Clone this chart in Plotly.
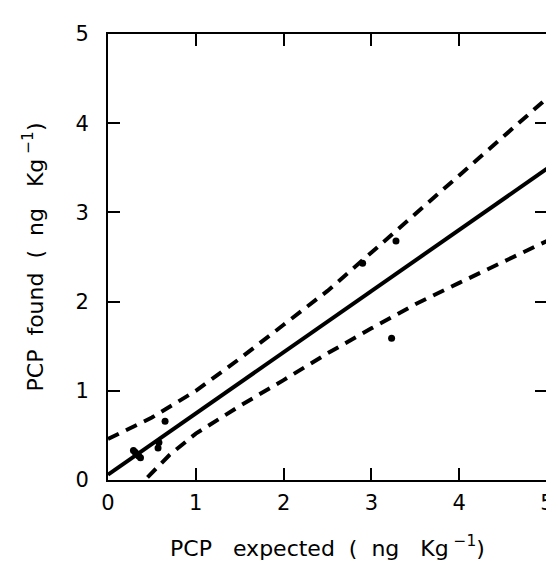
import plotly.graph_objects as go

# Observed data points (PCP expected, PCP found)
pts_x = [0.29, 0.33, 0.35, 0.37, 0.31, 0.57, 0.58, 0.65, 2.90, 3.23, 3.28]
pts_y = [0.33, 0.29, 0.27, 0.25, 0.31, 0.36, 0.42, 0.66, 2.43, 1.59, 2.68]

# Regression line (read endpoints)
fit_x = [0.0, 5.0]
fit_y = [0.06, 3.49]

# Upper confidence band
up_x = [0.0, 0.5, 1.0, 1.5, 2.0, 2.5, 3.0, 3.5, 4.0, 4.5, 5.0]
up_y = [0.46, 0.70, 1.00, 1.36, 1.74, 2.12, 2.55, 2.98, 3.42, 3.85, 4.28]

# Lower confidence band
lo_x = [0.45, 0.7, 1.0, 1.5, 2.0, 2.5, 3.0, 3.5, 4.0, 4.5, 5.0]
lo_y = [0.03, 0.28, 0.52, 0.83, 1.12, 1.42, 1.70, 1.97, 2.21, 2.45, 2.68]

ticks = [0, 1, 2, 3, 4, 5]
tick_text = ["0", "1", "2", "3", "4", "5"]

x_title = "PCP\u00a0\u00a0 expected \u00a0(\u00a0\u00a0ng\u00a0\u00a0 Kg<sup>\u00a0−1</sup>)"
y_title = "PCP\u00a0 found \u00a0(\u00a0\u00a0ng\u00a0\u00a0 Kg<sup>\u00a0−1</sup>)"

fig = go.Figure()
fig.add_trace(go.Scatter(x=up_x, y=up_y, mode="lines",
                         line=dict(color="black", width=4, dash="12px,8px"),
                         showlegend=False, hoverinfo="skip"))
fig.add_trace(go.Scatter(x=lo_x, y=lo_y, mode="lines",
                         line=dict(color="black", width=4, dash="12px,8px"),
                         showlegend=False, hoverinfo="skip"))
fig.add_trace(go.Scatter(x=fit_x, y=fit_y, mode="lines",
                         line=dict(color="black", width=4),
                         showlegend=False))
fig.add_trace(go.Scatter(x=pts_x, y=pts_y, mode="markers",
                         marker=dict(color="black", size=7),
                         showlegend=False))

font_family = "DejaVu Sans, sans-serif"
axis_common = dict(
    range=[0, 5], tickvals=ticks, ticktext=tick_text,
    showgrid=False, zeroline=False,
    showline=True, linecolor="black", linewidth=2, mirror="ticks",
    ticks="inside", ticklen=12, tickwidth=2, tickcolor="black",
    tickfont=dict(family=font_family, size=21, color="black"),
    ticklabeloverflow="allow",
)

fig.update_layout(
    width=554, height=563,
    margin=dict(l=100, r=8, t=26, b=91),
    plot_bgcolor="white", paper_bgcolor="white",
    xaxis=dict(**axis_common, ticklabelstandoff=3,
               title=dict(text=x_title,
                          font=dict(family=font_family, size=22, color="black"),
                          standoff=26)),
    yaxis=dict(**axis_common, ticklabelstandoff=13,
               title=dict(text=y_title,
                          font=dict(family=font_family, size=22, color="black"),
                          standoff=26)),
)

fig.write_html("out.html")
